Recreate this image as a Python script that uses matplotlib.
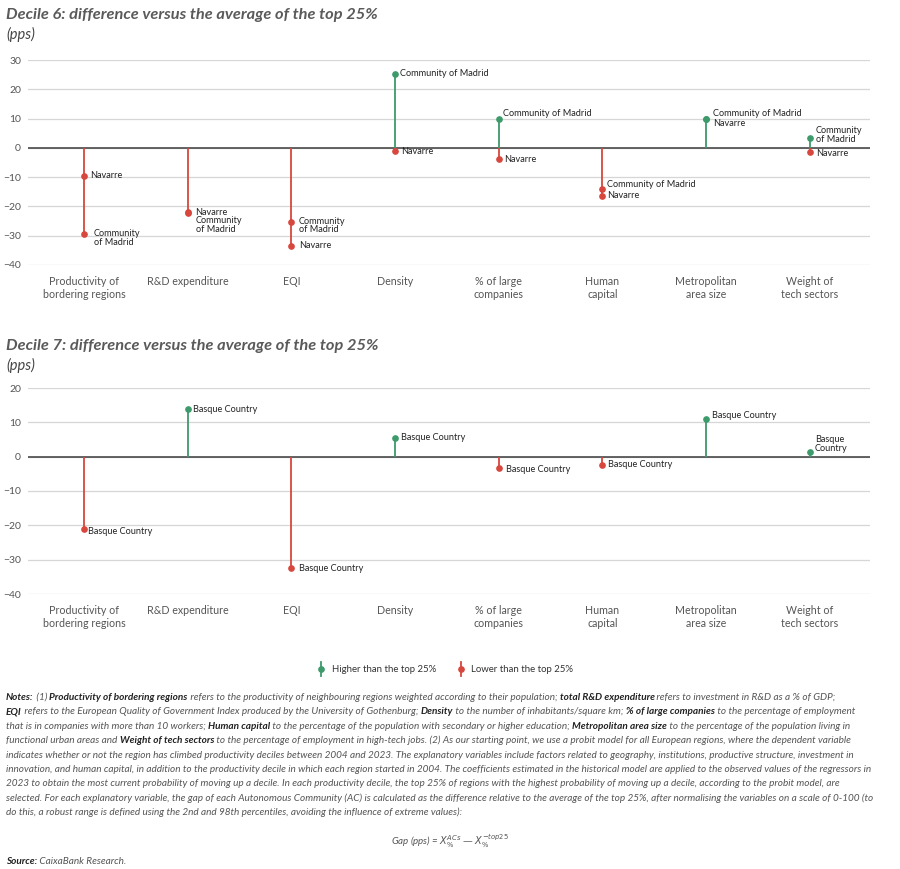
import matplotlib.pyplot as plt
from matplotlib.lines import Line2D

plt.rcParams['font.family'] = ['Lato', 'DejaVu Sans']

# data -------------------------------------------------------------
categories = ["Productivity of\nbordering regions", "R&D expenditure", "EQI", "Density",
              "% of large\ncompanies", "Human\ncapital", "Metropolitan\narea size",
              "Weight of\ntech sectors"]

d6_madrid = [-29.5, -22.0, -25.3, 25.3, 9.9, -13.9, 9.8, 3.3]
d6_navarre = [-9.6, -22.2, -33.4, -1.2, -3.9, -16.4, 9.8, -1.3]
d7_basque = [-21.1, 13.8, -32.5, 5.3, -3.3, -2.4, 11.1, 1.3]

d6_ticks = [-40, -30, -20, -10, 0, 10, 20, 30]
d7_ticks = [-40, -30, -20, -10, 0, 10, 20]

# layout of point labels (wrap, dx px, dy px)
madrid_wrap = [True, True, True, False, False, False, False, True]
madrid_off = [(10, -4), (8, -13), (7.5, -3.5), (5, 0), (4, 5.5), (4.7, 4.5), (6.6, 5.5), (6, 3)]
navarre_off = [(6, 0), (7, 0), (8, 0), (5.7, 0), (5, 0), (5, 0), (6.6, -4.4), (6.7, -1.6)]
basque_wrap = [False] * 7 + [True]
basque_off = [(4, -2.7), (5, 0), (7.6, 0), (6, 1.4), (7.4, -2), (5.6, 0), (6, 3), (5, 8.3)]

GREEN = '#3d9a6b'
RED = '#d8473d'
GREY = '#555555'

W, H = 900, 869
fig = plt.figure(figsize=(W / 100, H / 100), dpi=100)


def fx(x):
    return x / W


def fy(y):
    return 1 - y / H


def make_axes(top, bottom, ticks):
    ax = fig.add_axes([fx(28), fy(bottom), fx(870 - 28), (bottom - top) / H])
    ax.set_xlim(-0.54, 7.58)
    ax.set_ylim(ticks[0], ticks[-1])
    for s in ax.spines.values():
        s.set_visible(False)
    ax.set_yticks(ticks)
    ax.set_xticks(range(len(categories)), categories)
    ax.tick_params(axis='y', length=0, pad=5, labelsize=7.5, labelcolor=GREY)
    ax.tick_params(axis='x', length=0, pad=8, labelsize=7.7, labelcolor=GREY)
    ax.grid(axis='y', color='#d6d6d6', lw=0.9)
    ax.set_axisbelow(True)
    ax.axhline(0, color='#4a4a4a', lw=1.2, zorder=2)
    return ax


def stems(ax, series):
    for i in range(len(categories)):
        vals = [s[i] for s in series]
        hi = max(vals)
        lo = min(vals)
        if hi > 0:
            ax.vlines(i, 0, hi, color=GREEN, lw=1.3, zorder=3)
        if lo < 0:
            ax.vlines(i, 0, lo, color=RED, lw=1.3, zorder=3)
        for v in vals:
            ax.plot(i, v, 'o', ms=3.8, color=GREEN if v > 0 else RED, zorder=4)


def label(ax, i, v, txt, off):
    ax.annotate(txt, (i, v), xytext=off, textcoords='offset pixels',
                ha='left', va='center', fontsize=6.6, color='#222222',
                linespacing=0.95, zorder=5)


# decile 6 ---------------------------------------------------------
fig.text(fx(6), fy(15), "Decile 6: difference versus the average of the top 25%",
         fontsize=11.8, fontweight='bold', style='italic', color='#5a5a5a', va='center')
fig.text(fx(6), fy(34), "(pps)", fontsize=10.5, style='italic', color='#444444', va='center')
ax1 = make_axes(60, 265, d6_ticks)
stems(ax1, [d6_madrid, d6_navarre])
for i in range(len(categories)):
    name = "Community\nof Madrid" if madrid_wrap[i] else "Community of Madrid"
    label(ax1, i, d6_madrid[i], name, madrid_off[i])
    label(ax1, i, d6_navarre[i], "Navarre", navarre_off[i])

# decile 7 ---------------------------------------------------------
fig.text(fx(6), fy(346), "Decile 7: difference versus the average of the top 25%",
         fontsize=11.8, fontweight='bold', style='italic', color='#5a5a5a', va='center')
fig.text(fx(6), fy(365), "(pps)", fontsize=10.5, style='italic', color='#444444', va='center')
ax2 = make_axes(388, 594, d7_ticks)
stems(ax2, [d7_basque])
for i in range(len(categories)):
    name = "Basque\nCountry" if basque_wrap[i] else "Basque Country"
    label(ax2, i, d7_basque[i], name, basque_off[i])

# legend -----------------------------------------------------------
for mx, tx, col, txt in [(321, 332, GREEN, "Higher than the top 25%"),
                         (461, 471, RED, "Lower than the top 25%")]:
    fig.add_artist(Line2D([fx(mx), fx(mx)], [fy(662), fy(676)], color=col, lw=1.3,
                          transform=fig.transFigure))
    fig.add_artist(Line2D([fx(mx)], [fy(669)], marker='o', ms=3.8, color=col,
                          transform=fig.transFigure))
    fig.text(fx(tx), fy(669), txt, fontsize=6.9, color='#333333', va='center')

# notes ------------------------------------------------------------
notes = [
    [("Notes:", 1), (" (1) ", 0), ("Productivity of bordering regions", 1),
     (" refers to the productivity of neighbouring regions weighted according to their population; ", 0),
     ("total R&D expenditure", 1), (" refers to investment in R&D as a % of GDP;", 0)],
    [("EQI", 1), (" refers to the European Quality of Government Index produced by the University of Gothenburg; ", 0),
     ("Density", 1), (" to the number of inhabitants/square km; ", 0), ("% of large companies", 1),
     (" to the percentage of employment", 0)],
    [("that is in companies with more than 10 workers; ", 0), ("Human capital", 1),
     (" to the percentage of the population with secondary or higher education; ", 0),
     ("Metropolitan area size", 1), (" to the percentage of the population living in", 0)],
    [("functional urban areas and ", 0), ("Weight of tech sectors", 1),
     (" to the percentage of employment in high-tech jobs. (2) As our starting point, we use a probit model "
      "for all European regions, where the dependent variable", 0)],
    [("indicates whether or not the region has climbed productivity deciles between 2004 and 2023. The explanatory "
      "variables include factors related to geography, institutions, productive structure, investment in", 0)],
    [("innovation, and human capital, in addition to the productivity decile in which each region started in 2004. "
      "The coefficients estimated in the historical model are applied to the observed values of the regressors in", 0)],
    [("2023 to obtain the most current probability of moving up a decile. In each productivity decile, the top 25% "
      "of regions with the highest probability of moving up a decile, according to the probit model, are", 0)],
    [("selected. For each explanatory variable, the gap of each Autonomous Community (AC) is calculated as the "
      "difference relative to the average of the top 25%, after normalising the variables on a scale of 0-100 (to", 0)],
    [("do this, a robust range is defined using the 2nd and 98th percentiles, avoiding the influence of extreme values):", 0)],
]

renderer = fig.canvas.get_renderer()


def put_line(x, y, parts, size, draw=True):
    start = x
    texts = []
    for txt, bold in parts:
        t = fig.text(fx(x), fy(y), txt, fontsize=size, style='italic',
                     fontweight='bold' if bold else 'normal',
                     color='#222222' if bold else '#555555', va='center')
        x += t.get_window_extent(renderer).width
        texts.append(t)
    if not draw:
        for t in texts:
            t.remove()
    return x - start


# fit the notes block to the width of the reference text
base = 6.5
wid = put_line(6, 0, notes[7], base, draw=False)
size = base * 864 / wid

for k, parts in enumerate(notes):
    put_line(6, 697.5 + 14.4 * k, parts, size)

fig.text(0.5, fy(841), r"Gap (pps) = $X_{\%}^{ACs}$ — $X_{\%}^{-top25}$", fontsize=7,
         style='italic', color='#555555', ha='center', va='center')
put_line(6, 862, [("Source:", 1), (" CaixaBank Research.", 0)], size)

fig.savefig("out.png", dpi=100)
